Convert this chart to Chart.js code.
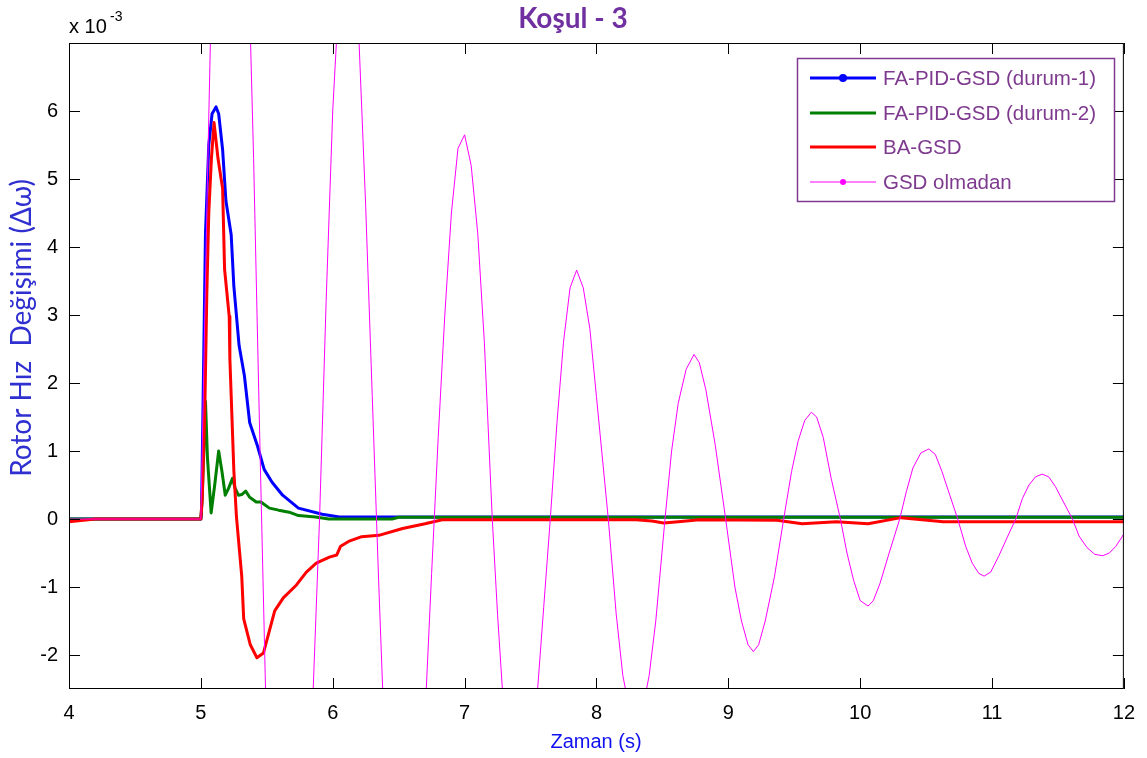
<!DOCTYPE html>
<html><head><meta charset="utf-8">
<script src="https://cdn.jsdelivr.net/npm/chart.js@4.4.1/dist/chart.umd.min.js"></script>
<style>html,body{margin:0;padding:0;background:#fff;} #wrap{width:1147px;height:758px;}</style>
</head><body><div id="wrap"><canvas id="c" width="1147" height="758"></canvas></div>
<script>
// ---- data (values in units of 10^-3) ----
const xTicks = [4, 5, 6, 7, 8, 9, 10, 11, 12];
const yTicks = [-2, -1, 0, 1, 2, 3, 4, 5, 6];
const seriesNames = ['FA-PID-GSD (durum-1)', 'FA-PID-GSD (durum-2)', 'BA-GSD', 'GSD olmadan'];

const blueX = [4, 5.0, 5.005, 5.035, 5.06, 5.085, 5.115, 5.135, 5.165, 5.19, 5.23, 5.25, 5.29, 5.33, 5.37, 5.43, 5.48, 5.54, 5.62, 5.74, 5.92, 6.05, 12];
const blueY = [0, 0, 0.1, 4.2, 5.5, 5.96, 6.06, 5.96, 5.43, 4.68, 4.18, 3.43, 2.55, 2.11, 1.42, 1.07, 0.73, 0.54, 0.35, 0.16, 0.07, 0.03, 0.03];

const greenX = [4, 5.0, 5.01, 5.035, 5.05, 5.078, 5.105, 5.135, 5.16, 5.185, 5.21, 5.24, 5.26, 5.285, 5.31, 5.34, 5.37, 5.42, 5.455, 5.52, 5.59, 5.67, 5.74, 5.87, 5.97, 6.45, 6.5, 12];
const greenY = [0, 0, 0.3, 1.73, 0.9, 0.09, 0.5, 1.0, 0.7, 0.35, 0.45, 0.6, 0.45, 0.35, 0.36, 0.41, 0.32, 0.25, 0.25, 0.16, 0.13, 0.1, 0.05, 0.03, 0.0, 0.0, 0.025, 0.025];

const redX = [4, 4.2, 5.0, 5.01, 5.03, 5.045, 5.06, 5.08, 5.10, 5.13, 5.165, 5.18, 5.215, 5.22, 5.25, 5.27, 5.31, 5.325, 5.375, 5.425, 5.475, 5.56, 5.625, 5.725, 5.80, 5.875, 5.975, 6.03, 6.06, 6.12, 6.22, 6.35, 6.53, 6.70, 6.83, 8.30, 8.42, 8.51, 8.62, 8.78, 9.37, 9.56, 9.82, 10.06, 10.31, 10.63, 12];
const redY = [-0.04, 0, 0, 0.3, 1.6, 3.3, 4.5, 5.3, 5.83, 5.3, 4.86, 3.67, 2.98, 2.36, 0.72, 0.03, -0.84, -1.47, -1.85, -2.04, -1.97, -1.35, -1.16, -0.97, -0.78, -0.65, -0.56, -0.53, -0.40, -0.33, -0.26, -0.24, -0.14, -0.07, -0.01, -0.01, -0.03, -0.06, -0.04, -0.01, -0.02, -0.07, -0.04, -0.07, 0.02, -0.04, -0.04];

const magX = [4, 5.0, 5.05, 5.10, 5.15, 5.20, 5.25, 5.30, 5.35, 5.40, 5.45, 5.50, 5.55, 5.60, 5.65, 5.70, 5.75, 5.80, 5.85, 5.90, 5.95, 6.00, 6.05, 6.10, 6.15, 6.20, 6.25, 6.30, 6.35, 6.40, 6.45, 6.50, 6.55, 6.60, 6.65, 6.70, 6.75, 6.80, 6.85, 6.90, 6.95, 7.00, 7.05, 7.10, 7.15, 7.21, 7.25, 7.30, 7.35, 7.40, 7.45, 7.50, 7.55, 7.60, 7.65, 7.70, 7.75, 7.80, 7.85, 7.90, 7.95, 8.00, 8.09, 8.15, 8.20, 8.25, 8.30, 8.35, 8.40, 8.45, 8.52, 8.57, 8.62, 8.68, 8.74, 8.78, 8.83, 8.90, 8.98, 9.05, 9.10, 9.15, 9.19, 9.23, 9.28, 9.35, 9.42, 9.48, 9.53, 9.58, 9.63, 9.67, 9.72, 9.78, 9.85, 9.90, 9.95, 10.00, 10.06, 10.10, 10.15, 10.22, 10.30, 10.35, 10.40, 10.46, 10.52, 10.57, 10.62, 10.68, 10.74, 10.80, 10.85, 10.90, 10.94, 10.99, 11.05, 11.12, 11.18, 11.23, 11.28, 11.33, 11.38, 11.43, 11.48, 11.55, 11.61, 11.66, 11.72, 11.78, 11.84, 11.89, 11.94, 12.0];
const magY = [0, 0, 5, 9.5, 12, 12.8, 12.2, 10.8, 9.0, 5.3, 0.9, -3.3, -6.5, -8.8, -9.8, -9.5, -7.8, -5.3, -2.6, 0, 3.2, 6.0, 7.8, 8.6, 8.3, 7.0, 4.6, 1.8, -1.0, -3.6, -5.4, -6.5, -6.7, -6.0, -4.6, -2.9, -0.8, 1.2, 3.0, 4.5, 5.45, 5.65, 5.2, 4.2, 2.6, 0, -1.4, -2.9, -3.9, -4.4, -4.4, -3.8, -2.6, -1.3, 0, 1.4, 2.6, 3.4, 3.66, 3.4, 2.8, 1.8, 0, -1.4, -2.3, -2.8, -2.95, -2.8, -2.3, -1.5, 0, 1.0, 1.7, 2.2, 2.42, 2.3, 1.9, 1.1, 0, -1.0, -1.5, -1.85, -1.95, -1.85, -1.5, -0.85, 0, 0.7, 1.15, 1.45, 1.57, 1.5, 1.2, 0.6, 0, -0.5, -0.9, -1.2, -1.28, -1.2, -0.95, -0.5, 0, 0.4, 0.75, 0.97, 1.03, 0.95, 0.7, 0.35, 0, -0.4, -0.65, -0.8, -0.84, -0.78, -0.55, -0.25, 0, 0.3, 0.5, 0.62, 0.66, 0.62, 0.48, 0.22, 0, -0.25, -0.42, -0.52, -0.54, -0.5, -0.4, -0.22];

const pts = (xs, ys) => xs.map((x, i) => ({x: x, y: ys[i]}));

const BOX = {l: 69, r: 1128, t: 43, b: 689};
const legendPurple = '#7E3A8E';

const decor = {
  id: 'decor',
  beforeDatasetsDraw(chart) {
    const ctx = chart.ctx;
    ctx.save();
    ctx.fillStyle = '#fff';
    ctx.fillRect(chart.chartArea.left, chart.chartArea.top, chart.chartArea.right - chart.chartArea.left, chart.chartArea.bottom - chart.chartArea.top);
    ctx.restore();
  },
  afterDatasetsDraw(chart) {
    const ctx = chart.ctx, a = chart.chartArea;
    const xs = chart.scales.x, ys = chart.scales.y;
    ctx.save();
    // axes box
    ctx.strokeStyle = '#000';
    ctx.lineWidth = 1;
    ctx.strokeRect(a.left + 0.5, a.top + 0.5, a.right - a.left - 1, a.bottom - a.top - 1);
    // inner ticks
    const tl = 11;
    ctx.beginPath();
    xTicks.forEach(v => {
      const p = Math.round(xs.getPixelForValue(v)) + 0.5;
      ctx.moveTo(p, a.bottom); ctx.lineTo(p, a.bottom - tl);
      ctx.moveTo(p, a.top); ctx.lineTo(p, a.top + tl);
    });
    yTicks.forEach(v => {
      const p = Math.round(ys.getPixelForValue(v)) + 0.5;
      ctx.moveTo(a.left, p); ctx.lineTo(a.left + tl, p);
      ctx.moveTo(a.right, p); ctx.lineTo(a.right - tl, p);
    });
    ctx.stroke();

    // exponent label
    ctx.fillStyle = '#000';
    ctx.textBaseline = 'alphabetic';
    ctx.textAlign = 'left';
    ctx.font = '20px "Liberation Sans", Arial, sans-serif';
    ctx.fillText('x 10', 69, 33);
    ctx.font = '14px "Liberation Sans", Arial, sans-serif';
    ctx.fillText('-3', 110, 21);

    // title
    ctx.fillStyle = '#7030A0';
    ctx.textAlign = 'center';
    ctx.textBaseline = 'middle';
    ctx.font = 'bold 28px Lato, "Open Sans", sans-serif';
    ctx.fillText('Koşul - 3', 573, 19);

    // x axis title
    ctx.fillStyle = '#1010F0';
    ctx.font = '20px "Liberation Sans", Arial, sans-serif';
    ctx.fillText('Zaman (s)', 596, 742);

    // y axis title
    ctx.save();
    ctx.translate(22, 328);
    ctx.rotate(-Math.PI / 2);
    ctx.fillStyle = '#3030D0';
    ctx.font = '28px Lato, "Open Sans", sans-serif';
    ctx.fillText('Rotor Hız  Değişimi (Δω)', 0, 0);
    ctx.restore();

    // legend
    const L = {l: 797, t: 58, r: 1115, b: 202};
    ctx.fillStyle = '#fff';
    ctx.fillRect(L.l, L.t, L.r - L.l, L.b - L.t);
    ctx.strokeStyle = legendPurple;
    ctx.lineWidth = 1.5;
    ctx.strokeRect(L.l + 0.5, L.t + 0.5, L.r - L.l - 1, L.b - L.t - 1);
    const rows = [78, 113, 147, 182];
    chart.data.datasets.forEach((ds, i) => {
      const y = rows[i];
      ctx.strokeStyle = ds.borderColor;
      ctx.lineWidth = ds.borderWidth;
      ctx.beginPath();
      ctx.moveTo(810, y); ctx.lineTo(876, y);
      ctx.stroke();
      if (ds.legendDot) {
        ctx.fillStyle = ds.borderColor;
        ctx.beginPath();
        ctx.arc(843, y, ds.legendDot, 0, Math.PI * 2);
        ctx.fill();
      }
      ctx.fillStyle = legendPurple;
      ctx.textAlign = 'left';
      ctx.textBaseline = 'middle';
      ctx.font = '20.5px "Liberation Sans", Arial, sans-serif';
      ctx.fillText(ds.label, 883, y + 1);
    });
    ctx.restore();
  }
};

new Chart(document.getElementById('c'), {
  type: 'line',
  data: {
    datasets: [
      {label: seriesNames[0], data: pts(blueX, blueY), borderColor: '#0000FF', borderWidth: 3, order: 4, legendDot: 4},
      {label: seriesNames[1], data: pts(greenX, greenY), borderColor: '#007F00', borderWidth: 3, order: 3},
      {label: seriesNames[2], data: pts(redX, redY), borderColor: '#FF0000', borderWidth: 3, order: 2},
      {label: seriesNames[3], data: pts(magX, magY), borderColor: '#FF00FF', borderWidth: 1, order: 1, legendDot: 3}
    ]
  },
  options: {
    responsive: false,
    animation: false,
    devicePixelRatio: 1,
    layout: {padding: {left: 0, top: BOX.t, right: 1147 - BOX.r, bottom: 0}},
    elements: {point: {radius: 0}, line: {tension: 0, borderJoinStyle: 'round', fill: false}},
    plugins: {legend: {display: false}, tooltip: {enabled: false}, title: {display: false}},
    scales: {
      x: {
        type: 'linear', min: 4, max: 12,
        afterBuildTicks: s => { s.ticks = xTicks.map(v => ({value: v})); },
        afterFit: s => { s.height = 758 - BOX.b; },
        grid: {display: false, drawTicks: false},
        border: {display: false},
        ticks: {padding: 12, color: '#000', font: {family: '"Liberation Sans", Arial, sans-serif', size: 20}, maxRotation: 0, autoSkip: false}
      },
      y: {
        type: 'linear', min: -2.5, max: 7,
        afterBuildTicks: s => { s.ticks = yTicks.map(v => ({value: v})); },
        afterFit: s => { s.width = BOX.l; },
        grid: {display: false, drawTicks: false},
        border: {display: false},
        ticks: {padding: 11, color: '#000', font: {family: '"Liberation Sans", Arial, sans-serif', size: 20}, autoSkip: false}
      }
    }
  },
  plugins: [decor]
});
</script>
</body></html>
